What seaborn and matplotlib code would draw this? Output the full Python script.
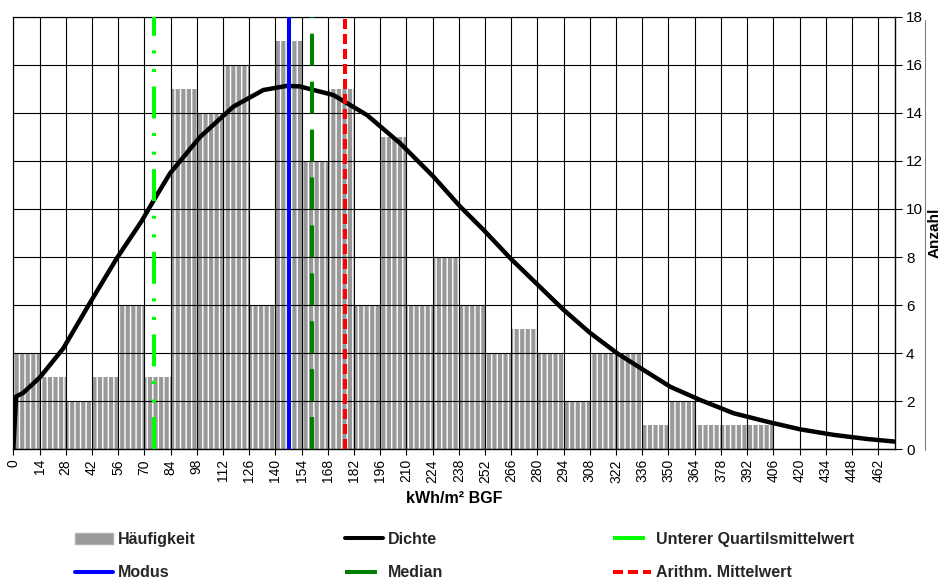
import matplotlib
matplotlib.use("Agg")
import matplotlib.pyplot as plt
import seaborn as sns
import numpy as np
import pandas as pd
from matplotlib.patches import Patch
from matplotlib.lines import Line2D

# histogram counts per 14 kWh/m² bin (0-14, 14-28, ...)
bin_width = 14
counts = [4, 3, 2, 3, 6, 3, 15, 14, 16, 6, 17, 12, 15, 6, 13,
          6, 8, 6, 4, 5, 4, 2, 4, 4, 1, 2, 1, 1, 1]

# scaled density curve
dens_x = [0, 1.5, 5, 14.3, 26.7, 41, 55.3, 68.6, 75.7, 83.7, 99.8, 117.6,
          133.6, 146, 153, 171, 188.9, 206.7, 224.5, 238.7, 251.2, 265.5,
          294, 308, 322.5, 336.7, 351, 367, 384.8, 402.6, 420.4, 438.3,
          456, 471]
dens_y = [0, 2.2, 2.33, 3.0, 4.2, 6.1, 7.95, 9.5, 10.45, 11.48, 13.0, 14.26,
          14.95, 15.12, 15.1, 14.74, 13.91, 12.73, 11.34, 10.1, 9.13, 7.95,
          5.8, 4.85, 4.0, 3.3, 2.6, 2.05, 1.5, 1.15, 0.83, 0.6,
          0.43, 0.32]

quartil_mean = 75.4
modus = 147.4
median = 159.5
mean = 177.3

x_ticks = list(range(0, 463, 14))
y_ticks = list(range(0, 19, 2))

sns.set_style("white")
plt.rcParams["font.family"] = ["Liberation Sans", "DejaVu Sans"]
plt.rcParams["hatch.linewidth"] = 1.0
plt.rcParams["lines.scale_dashes"] = False

fig, ax = plt.subplots(figsize=(9.41, 5.79), dpi=100)
fig.subplots_adjust(left=13.3 / 941, right=895 / 941,
                    bottom=129.7 / 579, top=562.3 / 579)

starts = [i * bin_width for i in range(len(counts))]
df = pd.DataFrame({"start": starts, "n": counts})
sns.histplot(data=df, x="start", weights="n", binwidth=bin_width,
             binrange=(0, bin_width * len(counts)), color="#999999",
             alpha=1, edgecolor="white", linewidth=0, hatch="|||",
             ax=ax, zorder=1)

sns.lineplot(x=dens_x, y=dens_y, color="black", linewidth=3.2,
             estimator=None, sort=False, ax=ax, zorder=4)

lw = 2.9
ax.axvline(quartil_mean, color="#00FF00", lw=lw,
           dashes=[23, 10.4, 2.2, 11.2, 2.2, 10.5], zorder=5)
ax.axvline(modus, color="#0000FF", lw=lw, zorder=5)
ax.axvline(median, color="#008000", lw=lw, dashes=[23, 11.5], zorder=5)
ax.axvline(mean, color="#FF0000", lw=lw, dashes=[7.2, 3.6], zorder=5)

ax.set_xlim(0, 471)
ax.set_ylim(0, 18)
ax.set_xticks(x_ticks)
ax.set_xticklabels([str(t) for t in x_ticks], rotation=90)
ax.set_yticks(y_ticks)
ax.yaxis.tick_right()
ax.yaxis.set_label_position("right")

ax.grid(True, color="black", linewidth=0.8)
ax.set_axisbelow(False)

ax.tick_params(axis="x", bottom=True, direction="out", length=4, width=0.8,
               color="black", labelcolor="black", labelsize=10, pad=3)
ax.tick_params(axis="y", right=True, left=False, direction="out", length=5,
               width=0.8, color="black", labelcolor="black", labelsize=11,
               pad=3)

for side in ["left", "top"]:
    ax.spines[side].set_color("#808080")
    ax.spines[side].set_linewidth(1)
for side in ["bottom", "right"]:
    ax.spines[side].set_color("black")
    ax.spines[side].set_linewidth(1)
    ax.spines[side].set_visible(True)

ax.set_xlabel("kWh/m² BGF", fontsize=11.5, fontweight="bold", labelpad=6,
              color="black")
ax.set_ylabel("Anzahl", fontsize=11, fontweight="bold", labelpad=3,
              color="black")

fig.add_artist(Line2D([925 / 941, 925 / 941], [1 - 20 / 579, 1 - 450 / 579],
                      color="#808080", lw=0.8))

h_hist = Patch(facecolor="#999999", edgecolor="#b0b0b0")
h_dens = Line2D([], [], color="black", lw=lw)
h_quart = Line2D([], [], color="#00FF00", lw=lw,
                 dashes=[23, 10.4, 2.2, 11.2, 2.2, 10.5])
h_mod = Line2D([], [], color="#0000FF", lw=lw)
h_med = Line2D([], [], color="#008000", lw=lw, dashes=[23, 11.5])
h_mean = Line2D([], [], color="#FF0000", lw=lw, dashes=[7.2, 3.6])

columns = [
    (75, [h_hist, h_mod], ["Häufigkeit", "Modus"]),
    (345, [h_dens, h_med], ["Dichte", "Median"]),
    (613, [h_quart, h_mean], ["Unterer Quartilsmittelwert", "Arithm. Mittelwert"]),
]
for x0, handles, labels in columns:
    fig.legend(handles=handles, labels=labels, loc="center left",
               bbox_to_anchor=(x0 / 941, 1 - 556 / 579), frameon=False,
               handlelength=2.4, handletextpad=0.3, labelspacing=1.15,
               borderaxespad=0, borderpad=0,
               prop={"weight": "bold", "size": 11.5})

fig.savefig("out.png", dpi=100)
